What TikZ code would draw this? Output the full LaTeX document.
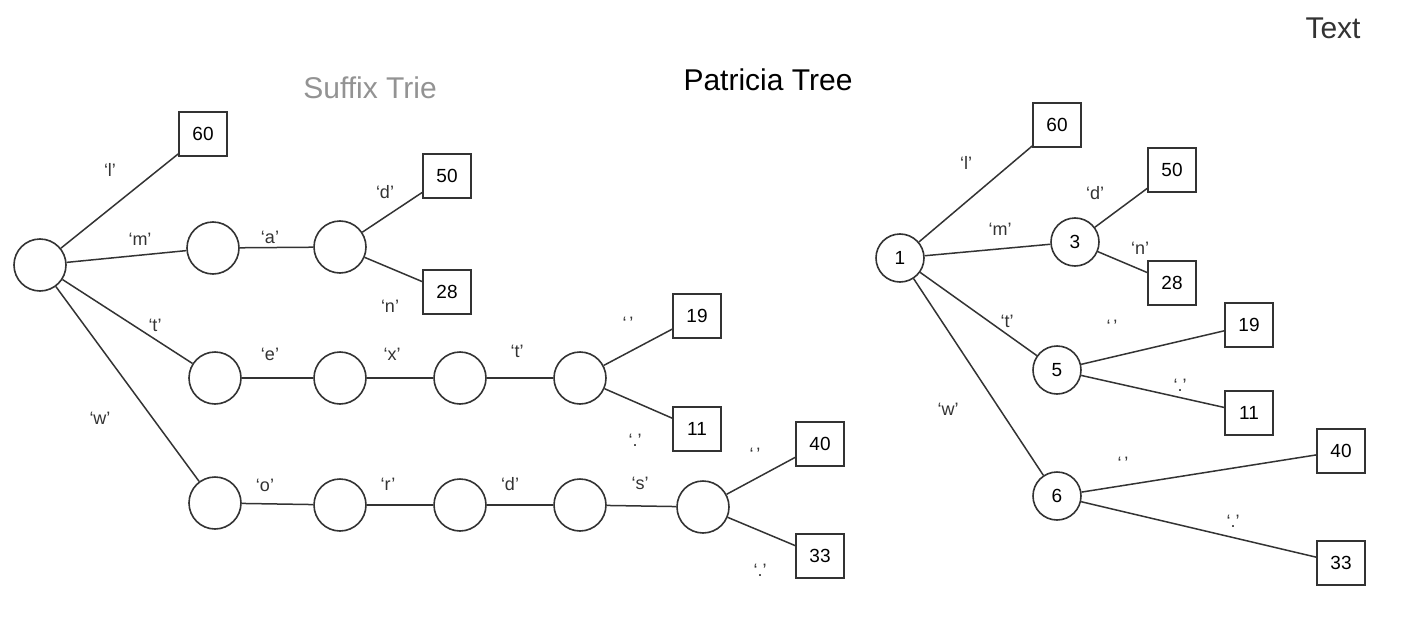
\documentclass[tikz,border=0pt]{standalone}
\usepackage{fontspec}
\setmainfont{Liberation Sans}
\definecolor{ink}{HTML}{333333}
\begin{document}
\begin{tikzpicture}[x=1pt,y=-1pt,
  trie/.style={circle,draw=ink,line width=1.6pt,minimum size=52pt,inner sep=0pt,font=\fontsize{19}{22}\selectfont},
  pat/.style={circle,draw=ink,line width=1.6pt,minimum size=48pt,inner sep=0pt,font=\fontsize{19}{22}\selectfont},
  leaf/.style={rectangle,draw=ink,line width=1.6pt,minimum width=48pt,minimum height=44pt,inner sep=0pt,font=\fontsize{19}{22}\selectfont},
  edge/.style={draw=ink,line width=1.5pt},
  lab/.style={font=\fontsize{18}{20}\selectfont,text=ink,inner sep=0pt},
  ttl/.style={font=\fontsize{30}{34}\selectfont,inner sep=0pt}]
\useasboundingbox (0,0) rectangle (1405,618);
\fill[white] (0,0) rectangle (1405,618);
% titles
\node[ttl,text=gray!85] (t1) at (370,88) {Suffix Trie};
\node[ttl] (t2) at (768,80) {Patricia Tree};
\node[ttl,text=ink] (t3) at (1333,28) {Text};
% ---------- Suffix trie ----------
\node[trie] (r) at (40,265) {};
\node[leaf] (s60) at (203,134) {60};
\node[trie] (m1) at (213,248) {};
\node[trie] (m2) at (340,247) {};
\node[leaf] (s50) at (447,176) {50};
\node[leaf] (s28) at (447,292) {28};
\node[trie] (t1n) at (215,378) {};
\node[trie] (t2n) at (340,378) {};
\node[trie] (t3n) at (460,378) {};
\node[trie] (t4n) at (580,378) {};
\node[leaf] (s19) at (697,316) {19};
\node[leaf] (s11) at (697,429) {11};
\node[trie] (w1) at (215,503) {};
\node[trie] (w2) at (340,505) {};
\node[trie] (w3) at (460,505) {};
\node[trie] (w4) at (580,505) {};
\node[trie] (w5) at (703,507) {};
\node[leaf] (s40) at (820,444) {40};
\node[leaf] (s33) at (820,556) {33};
\draw[edge] (r) -- (s60);
\draw[edge] (r) -- (m1);
\draw[edge] (m1) -- (m2);
\draw[edge] (m2) -- (s50);
\draw[edge] (m2) -- (s28);
\draw[edge] (r) -- (t1n);
\draw[edge] (t1n) -- (t2n);
\draw[edge] (t2n) -- (t3n);
\draw[edge] (t3n) -- (t4n);
\draw[edge] (t4n) -- (s19);
\draw[edge] (t4n) -- (s11);
\draw[edge] (r) -- (w1);
\draw[edge] (w1) -- (w2);
\draw[edge] (w2) -- (w3);
\draw[edge] (w3) -- (w4);
\draw[edge] (w4) -- (w5);
\draw[edge] (w5) -- (s40);
\draw[edge] (w5) -- (s33);
\node[lab] (la) at (110,170) {`l'};
\node[lab] (lb) at (140,239) {`m'};
\node[lab] (lc) at (270,237) {`a'};
\node[lab] (ld) at (385,192) {`d'};
\node[lab] (le) at (390,306) {`n'};
\node[lab] (lf) at (155,325) {`t'};
\node[lab] (lg) at (270,354) {`e'};
\node[lab] (lh) at (392,354) {`x'};
\node[lab] (li) at (517,351) {`t'};
\node[lab] (lj) at (100,418) {`w'};
\node[lab] (lk) at (265,485) {`o'};
\node[lab] (ll) at (388,484) {`r'};
\node[lab] (lm) at (510,484) {`d'};
\node[lab] (ln) at (640,483) {`s'};
\node[lab] (lo) at (628,323) {`\,'};
\node[lab] (lp) at (635,440) {`.'};
\node[lab] (lq) at (755,454) {`\,'};
\node[lab] (lr) at (760,570) {`.'};
% ---------- Patricia tree ----------
\node[pat] (p1) at (900,258) {1};
\node[leaf] (q60) at (1057,125) {60};
\node[pat] (p3) at (1075,242) {3};
\node[leaf] (q50) at (1172,170) {50};
\node[leaf] (q28) at (1172,283) {28};
\node[pat] (p5) at (1057,370) {5};
\node[leaf] (q19) at (1249,325) {19};
\node[leaf] (q11) at (1249,413) {11};
\node[pat] (p6) at (1057,496) {6};
\node[leaf] (q40) at (1341,451) {40};
\node[leaf] (q33) at (1341,563) {33};
\draw[edge] (p1) -- (q60);
\draw[edge] (p1) -- (p3);
\draw[edge] (p3) -- (q50);
\draw[edge] (p3) -- (q28);
\draw[edge] (p1) -- (p5);
\draw[edge] (p5) -- (q19);
\draw[edge] (p5) -- (q11);
\draw[edge] (p1) -- (p6);
\draw[edge] (p6) -- (q40);
\draw[edge] (p6) -- (q33);
\node[lab] (ma) at (966,163) {`l'};
\node[lab] (mb) at (1000,229) {`m'};
\node[lab] (mc) at (1095,193) {`d'};
\node[lab] (md) at (1140,248) {`n'};
\node[lab] (me) at (1007,321) {`t'};
\node[lab] (mf) at (1112,326) {`\,'};
\node[lab] (mg) at (1180,385) {`.'};
\node[lab] (mh) at (948,409) {`w'};
\node[lab] (mi) at (1123,463) {`\,'};
\node[lab] (mj) at (1233,521) {`.'};
\end{tikzpicture}
\end{document}
